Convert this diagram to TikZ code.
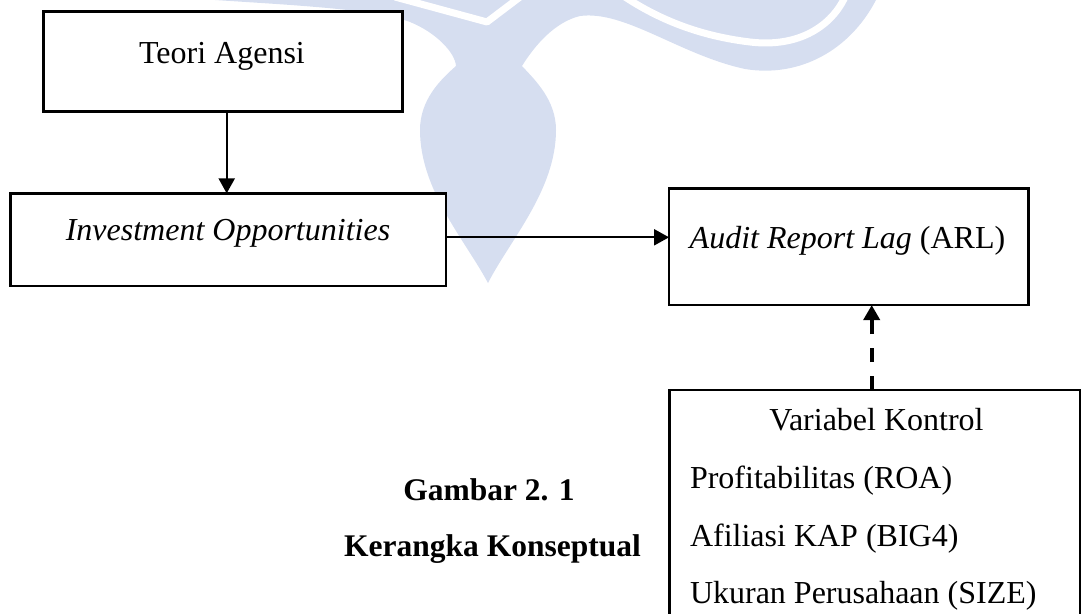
\documentclass[tikz,border=0pt]{standalone}
\usepackage{fontspec}
\setmainfont{Liberation Serif}
\usetikzlibrary{arrows.meta}
\definecolor{wmblue}{RGB}{214,222,240}
\tikzset{
  boxnode/.style={draw=black, line width=2.6pt, fill=white, inner sep=0pt, outer sep=0pt},
  lbl/.style={inner sep=0pt, outer sep=0pt, font=\fontsize{32}{38}\selectfont},
  captext/.style={inner sep=0pt, outer sep=0pt, font=\fontsize{31.5}{38}\selectfont\bfseries},
  solidarrow/.style={line width=2.2pt, -{Triangle[length=15pt,width=16pt]}},
  dasharrow/.style={line width=4pt, dash pattern=on 14pt off 14pt, -{Triangle[length=15pt,width=16pt]}},
}
\begin{document}
\begin{tikzpicture}[x=1pt, y=-1pt]
\useasboundingbox (0,0) rectangle (1084,613);
\clip (0,0) rectangle (1084,613);
% watermark
\fill[wmblue] (215,0) .. controls (290,5) and (375,9) .. (410,22)
  .. controls (435,32) and (455,52) .. (456,66)
  .. controls (440,80) and (420,100) .. (420,130)
  .. controls (420,190) and (465,240) .. (488,283)
  .. controls (510,240) and (556,190) .. (556,130)
  .. controls (556,100) and (535,80) .. (522,66)
  .. controls (535,45) and (555,22) .. (580,16)
  .. controls (625,10) and (680,55) .. (745,69)
  .. controls (800,78) and (850,50) .. (876,0) -- cycle;
\draw[white, line width=7pt, line join=round] (395,-3) -- (487,22) -- (520,-3);
\draw[white, line width=7pt] (625,-3) .. controls (660,20) and (700,36) .. (750,42)
  .. controls (800,48) and (832,25) .. (845,-3);
% boxes
\node[boxnode, minimum width=359pt, minimum height=100pt] (teori) at (222.8,61.7) {};
\node[boxnode, minimum width=435.7pt, minimum height=92.7pt] (inv) at (228.2,239.7) {};
\node[boxnode, minimum width=359.3pt, minimum height=116.7pt] (arl) at (848.7,246.7) {};
\node[boxnode, minimum width=410.7pt, minimum height=260pt] (kontrol) at (874.7,520) {};
% texts
\node[lbl, anchor=base] (tteori) at (222,63) {Teori Agensi};
\node[lbl, anchor=base] (tinv) at (228,240) {\itshape Investment Opportunities};
\node[lbl, anchor=base] (tarl) at (847.5,248.3) {\itshape Audit Report Lag\/ \upshape (ARL)};
\node[lbl, anchor=base] (tvar) at (876.5,430) {Variabel Kontrol};
\node[lbl, anchor=base west] (troa) at (690,488.3) {Profitabilitas (ROA)};
\node[lbl, anchor=base west] (tbig) at (690,546.7) {Afiliasi KAP (BIG4)};
\node[lbl, anchor=base west] (tsize) at (690,603.3) {Ukuran Perusahaan (SIZE)};
\node[captext, anchor=base] (cap1) at (489,500) {Gambar 2. 1};
\node[captext, anchor=base] (cap2) at (492.5,556.7) {Kerangka Konseptual};
% connectors
\draw[solidarrow] (teori.south -| 226.7,0) -- (inv.north -| 226.7,0);
\draw[solidarrow] (inv.east |- 0,237.3) -- (arl.west |- 0,237.3);
\draw[dasharrow] (kontrol.north -| 871.7,0) -- (arl.south -| 871.7,0);
\end{tikzpicture}
\end{document}
